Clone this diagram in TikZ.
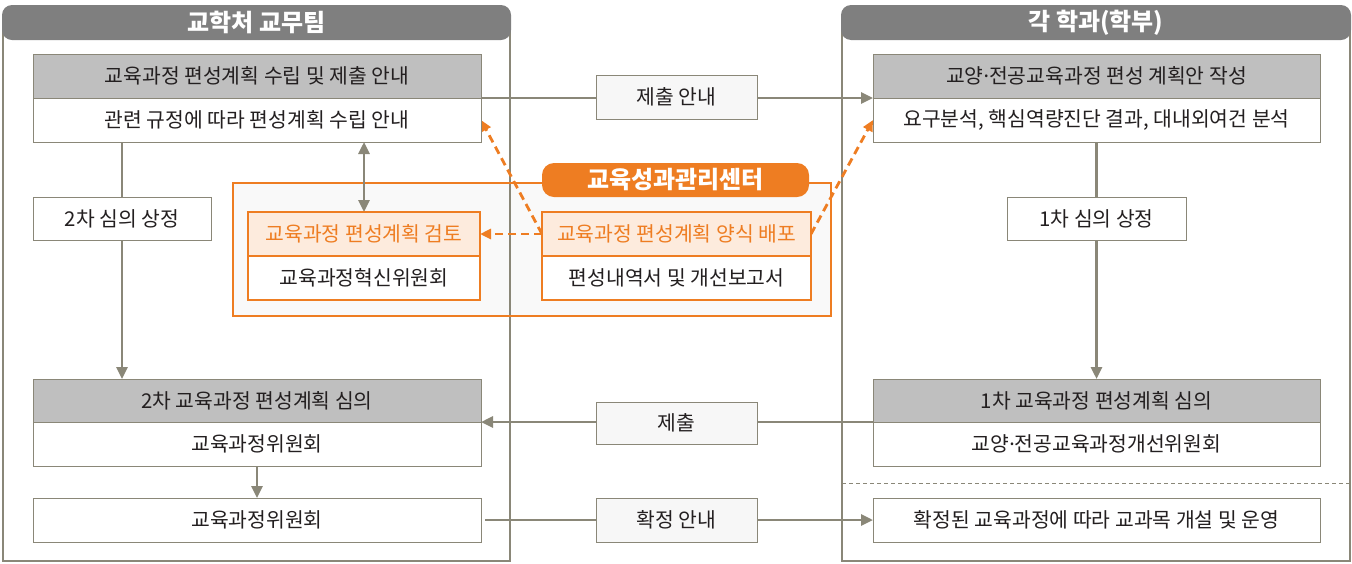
\documentclass[tikz,border=0pt]{standalone}
\usepackage{fontspec}
\setmainfont{Noto Sans CJK KR}
\newfontfamily\latinf{Noto Sans}
\usetikzlibrary{arrows.meta}
\definecolor{ln}{HTML}{8A8778}
\definecolor{hd}{HTML}{7F7F7F}
\definecolor{bh}{HTML}{BFBFBF}
\definecolor{og}{HTML}{EE7D22}
\definecolor{ogl}{HTML}{FDEBDD}
\definecolor{tx}{HTML}{231F20}
\definecolor{lb}{HTML}{F7F7F7}
\definecolor{ofill}{HTML}{F9F9F9}
\pgfdeclarelayer{back}
\pgfdeclarelayer{mid}
\pgfsetlayers{back,mid,main}
\newcommand\md{{\latinf ·}}
% box from (x1,y1) to (x2,y2) in pixel units
\newcommand\bx[6]{\node[#1,minimum width={(#5-#3)*0.5pt},minimum height={(#6-#4)*0.5pt}] (#2) at ({(#3+#5)/2},{(#4+#6)/2})}
\begin{document}
\begin{tikzpicture}[x=0.5pt,y=-0.5pt,
  every node/.style={inner sep=0pt,outer sep=0pt,text=tx,font=\fontsize{10.2}{12}\selectfont},
  bxh/.style={draw=ln,line width=0.5pt,fill=bh},
  bxl/.style={draw=ln,line width=0.5pt,fill=white},
  lab/.style={draw=ln,line width=0.5pt,fill=lb},
  ohdr/.style={draw=og,line width=0.6pt,fill=ogl,text=og},
  olow/.style={draw=og,line width=0.6pt,fill=white},
  title/.style={fill=hd,rounded corners=5pt,text=white,font=\fontsize{12}{14}\selectfont\bfseries},
  panel/.style={draw=ln,line width=1.2pt},
  conn/.style={draw=ln,line width=1.4pt,-{Triangle[length=6pt,width=5.5pt]}},
  oconn/.style={draw=og,line width=1.4pt,dash pattern=on 4pt off 2.5pt,-{Triangle[length=5.5pt,width=5pt]}}]
\useasboundingbox (0,0) rectangle (1352,563);

% panels
\begin{pgfonlayer}{back}
\bx{fill=ofill}{of}{233}{183}{831}{316} {};
\bx{panel}{pL}{3}{22}{510}{561} {};
\bx{panel}{pR}{842}{22}{1350}{561} {};
\draw[og,line width=1pt] (of.north west) rectangle (of.south east);
\coordinate (d1) at (842,483);
\coordinate (d2) at (1350,483);
\draw[ln,line width=0.5pt,dash pattern=on 2pt off 1.5pt] (d1) -- (d2);
\end{pgfonlayer}

\bx{title}{h1}{2}{5}{511}{40} {교학처 교무팀};
\bx{title}{h2}{841}{5}{1351}{40} {각 학과(학부)};

% left column
\bx{bxh}{a1}{33}{54}{481}{98} {교육과정 편성계획 수립 및 제출 안내};
\bx{bxl}{a2}{33}{98}{481}{142} {관련 규정에 따라 편성계획 수립 안내};
\bx{bxl}{s2}{33}{197}{211}{240} {2차 심의 상정};
\bx{bxh}{a3}{33}{379}{481}{422} {2차 교육과정 편성계획 심의};
\bx{bxl}{a4}{33}{422}{481}{466} {교육과정위원회};
\bx{bxl}{a5}{33}{498}{481}{542} {교육과정위원회};

% right column
\bx{bxh}{b1}{873}{54}{1320}{98} {교양\md 전공교육과정 편성 계획안 작성};
\bx{bxl}{b2}{873}{98}{1320}{142} {요구분석, 핵심역량진단 결과, 대내외여건 분석};
\bx{bxl}{s1}{1007}{197}{1186}{240} {1차 심의 상정};
\bx{bxh}{b3}{873}{379}{1320}{422} {1차 교육과정 편성계획 심의};
\bx{bxl}{b4}{873}{422}{1320}{466} {교양\md 전공교육과정개선위원회};
\bx{bxl}{b5}{873}{498}{1320}{542} {확정된 교육과정에 따라 교과목 개설 및 운영};

% middle labels
\bx{lab}{m1}{596}{75}{757}{119} {제출 안내};
\bx{lab}{m2}{596}{402}{757}{444} {제출};
\bx{lab}{m3}{596}{498}{757}{542} {확정 안내};

% orange centre
\bx{ohdr}{o1}{248}{212}{480}{256} {교육과정 편성계획 검토};
\bx{olow}{o2}{248}{256}{480}{300} {교육과정혁신위원회};
\bx{ohdr}{o3}{542}{212}{811}{256} {교육과정 편성계획 양식 배포};
\bx{olow}{o4}{542}{256}{811}{300} {편성내역서 및 개선보고서};
\bx{fill=og,rounded corners=6pt,text=white,font=\fontsize{12}{14}\selectfont\bfseries}{ot}{542}{163}{809}{197} {교육성과관리센터};

% connectors
\begin{pgfonlayer}{mid}
\draw[conn] (a1.south east) -- (b1.south west);
\draw[conn] (b3.south west) -- (a3.south east);
\draw[conn,shorten <=2pt] (a5.east) -- (b5.west);
\draw[conn] (a2.south -| s2) -- (a3.north -| s2);
\draw[conn] (b2.south -| s1) -- (b3.north -| s1);
\draw[conn] (a4.south) -- (a5.north);
\draw[conn,{Triangle[length=6pt,width=5.5pt]}-{Triangle[length=6pt,width=5.5pt]}] (a2.south -| o1) -- (o1.north);
\draw[oconn] (o3.west) -- (o1.east);
\draw[oconn] (o3.west) -- (a2.east);
\draw[oconn] (o3.east) -- (b2.west);
\end{pgfonlayer}
\end{tikzpicture}
\end{document}
